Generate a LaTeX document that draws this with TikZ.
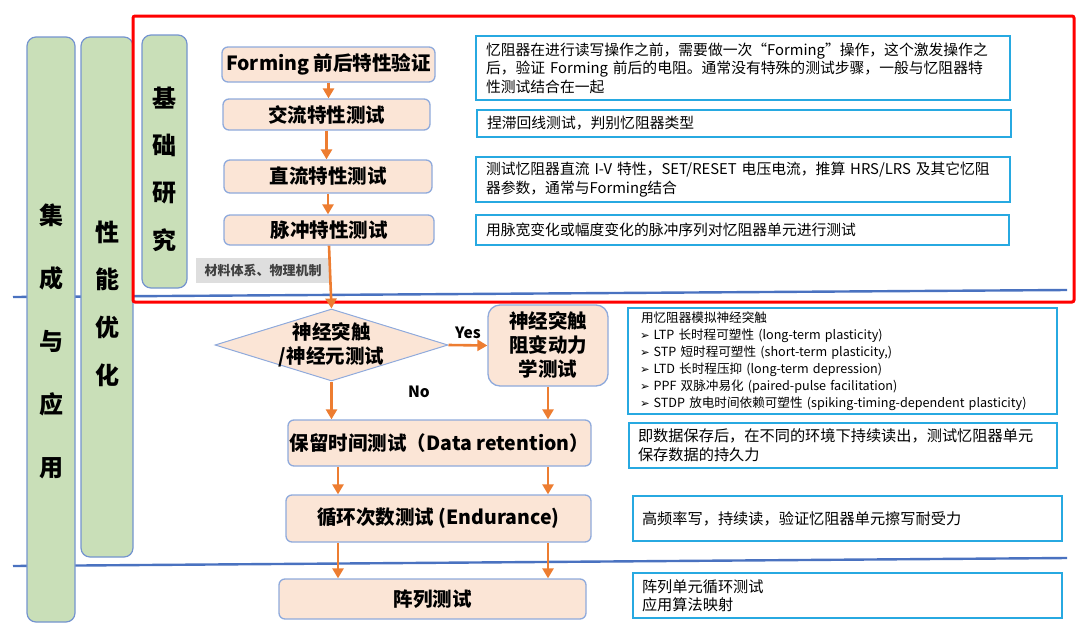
\documentclass[tikz,border=0pt]{standalone}
\usepackage{fontspec}
\setmainfont{Noto Sans CJK SC}
\newfontfamily\symfont{DejaVu Sans}
\usetikzlibrary{shapes.geometric, arrows.meta, positioning}
\definecolor{peach}{HTML}{FBE5D6}
\definecolor{peachline}{HTML}{8FAADC}
\definecolor{leaf}{HTML}{C9DFB8}
\definecolor{leafline}{HTML}{7494CF}
\definecolor{flow}{HTML}{ED7D31}
\definecolor{noteline}{HTML}{27A9E1}
\definecolor{sepline}{HTML}{4A72C0}
\newcommand{\synbullet}{\hspace*{3pt}{\symfont\fontsize{11.5}{12}\selectfont ➢}\hspace{4pt}}
\tikzset{
    block/.style={rectangle, rounded corners=6pt, draw=peachline, line width=1.3pt, fill=peach, align=center, font=\fontsize{19.5}{24}\selectfont\bfseries, inner sep=0pt},
    decision/.style={diamond, aspect=3.24, draw=peachline, line width=1pt, fill=peach, align=center, font=\fontsize{19.5}{24}\selectfont\bfseries, inner sep=-4pt, minimum width=233pt, minimum height=72pt},
    pillar/.style={rectangle, rounded corners=9pt, draw=leafline, line width=1.2pt, fill=leaf},
    pillar text/.style={align=center, font=\fontsize{24}{#1}\selectfont\bfseries, inner sep=0pt},
    note/.style={rectangle, draw=noteline, line width=2.8pt, align=left, inner xsep=10pt, inner ysep=2pt, font=\fontsize{14.8}{18.5}\selectfont},
    tag/.style={rectangle, fill=black!13, text=black!75, font=\fontsize{13}{15}\selectfont\bfseries, inner sep=0pt, minimum width=134pt, minimum height=25pt},
    arrow/.style={line width=2.6pt, flow, -{Triangle[width=11pt, length=10pt]}},
    divider/.style={line width=2.4pt, sepline}
}

\begin{document}
\begin{tikzpicture}[x=1pt, y=-1pt]
    \useasboundingbox (0,0) rectangle (1080,638);

    \draw [divider] (13,297) -- (1067,290);
    \draw [divider] (13,566) -- (1067,558);

    \node (integ) [pillar, minimum width=48pt, minimum height=585pt] at (51,329.5) {};
    \node (integlabel) [pillar text=63pt] at (51,341.5) {集\\成\\与\\应\\用};
    \node (perf) [pillar, minimum width=52pt, minimum height=520pt] at (107,297) {};
    \node (perflabel) [pillar text=47.7pt] at (107,303.5) {性\\能\\优\\化};
    \node (basic) [pillar, minimum width=45pt, minimum height=253pt] at (164.5,161.5) {};
    \node (basiclabel) [pillar text=47.3pt] at (164.5,169) {基\\础\\研\\究};

    \draw [red, line width=3pt, rounded corners=2pt] (133,16) rectangle (1074,302);

    \node (forming) [block, minimum width=213pt, minimum height=35pt] at (328.5,64.5) {Forming 前后特性验证};
    \node (acsweep) [block, minimum width=207pt, minimum height=31pt] at (326.5,114.5) {交流特性测试};
    \node (dcsweep) [block, minimum width=208pt, minimum height=33pt] at (328,176.5) {直流特性测试};
    \node (pulse) [block, minimum width=210pt, minimum height=30pt] at (329,230) {脉冲特性测试};
    \node (mattag) [tag] at (263,270.5) {材料体系、物理机制};
    \node (decide) [decision] at (331.5,345) {神经突触\\/神经元测试};
    \node (neural) [block, rounded corners=12pt, minimum width=120pt, minimum height=81pt] at (548,345.5) {神经突触\\阻变动力\\学测试};
    \node (retain) [block, minimum width=303pt, minimum height=46pt] at (439.5,443) {保留时间测试（Data retention）};
    \node (endure) [block, minimum width=305pt, minimum height=47pt] at (438.5,518.5) {循环次数测试 (Endurance)};
    \node (array) [block, minimum width=307pt, minimum height=40pt] at (432.5,599) {阵列测试};

    \node (formingnote) [note, text width=514pt, minimum height=64pt] at (743,68) {忆阻器在进行读写操作之前，需要做一次“Forming”操作，这个激发操作之\\后，验证 Forming 前后的电阻。通常没有特殊的测试步骤，一般与忆阻器特\\性测试结合在一起};
    \node (acnote) [note, text width=514pt, minimum height=27pt] at (744,123.5) {捏滞回线测试，判别忆阻器类型};
    \node (dcnote) [note, text width=514pt, minimum height=45pt] at (743,179.5) {测试忆阻器直流 I-V 特性，SET/RESET 电压电流，推算 HRS/LRS 及其它忆阻\\器参数，通常与Forming结合};
    \node (pulsenote) [note, text width=513pt, minimum height=30pt] at (742.5,230) {用脉宽变化或幅度变化的脉冲序列对忆阻器单元进行测试};
    \node (neuralnote) [note, inner xsep=9pt, text width=411pt, minimum height=106pt, font=\fontsize{12.6}{17}\selectfont] at (842.5,361) {\hspace*{4pt}用忆阻器模拟神经突触\\
        \synbullet\mbox{LTP 长时程可塑性 (long-term plasticity)}\\
        \synbullet\mbox{STP 短时程可塑性 (short-term plasticity,)}\\
        \synbullet\mbox{LTD 长时程压抑 (long-term depression)}\\
        \synbullet\mbox{PPF 双脉冲易化 (paired-pulse facilitation)}\\
        \synbullet\mbox{STDP 放电时间依赖可塑性 (spiking-timing-dependent plasticity)}};
    \node (retainnote) [note, inner xsep=9pt, text width=410pt, minimum height=45pt, font=\fontsize{15.2}{19}\selectfont] at (843,445.5) {即数据保存后，在不同的环境下持续读出，测试忆阻器单元\\保存数据的持久力};
    \node (endurenote) [note, inner xsep=9pt, text width=411pt, minimum height=45pt, font=\fontsize{15.2}{19}\selectfont] at (847.5,518.5) {高频率写，持续读，验证忆阻器单元擦写耐受力};
    \node (arraynote) [note, inner xsep=9pt, text width=411pt, minimum height=45pt, font=\fontsize{15.2}{18}\selectfont] at (847.5,595.5) {阵列单元循环测试\\应用算法映射};

    \coordinate (laneL) at (338,0);

    \draw [arrow] (forming.south) -- (forming.south |- acsweep.north);
    \draw [arrow] (acsweep.south) -- (acsweep.south |- dcsweep.north);
    \draw [arrow] (dcsweep.south) -- (dcsweep.south |- pulse.north);
    \draw [arrow] (pulse.south) -- (decide.north);
    \draw [arrow] (decide.east) -- (neural.west) node [midway, above=2pt, text=black, font=\fontsize{15.5}{18}\selectfont\bfseries] {Yes};
    \draw [arrow] (decide.south) -- (decide.south |- retain.north) node [pos=0.26, right=72pt, text=black, font=\fontsize{15.5}{18}\selectfont\bfseries] {No};
    \draw [arrow] (neural.south) -- (neural.south |- retain.north);
    \draw [arrow] (retain.south -| laneL) -- (endure.north -| laneL);
    \draw [arrow] (retain.south -| neural.south) -- (endure.north -| neural.south);
    \draw [arrow] (endure.south -| laneL) -- (array.north -| laneL);
    \draw [arrow] (endure.south -| neural.south) -- (array.north -| neural.south);
\end{tikzpicture}
\end{document}
